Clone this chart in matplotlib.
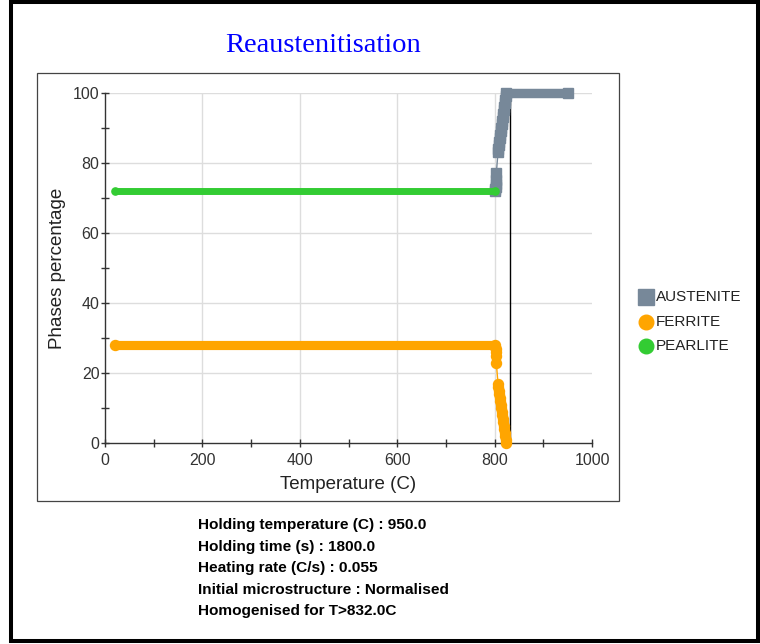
import matplotlib
matplotlib.use('Agg')
import matplotlib.pyplot as plt
from matplotlib.lines import Line2D
from matplotlib.patches import Rectangle
from matplotlib.ticker import MultipleLocator

# phase fractions (%) against temperature (C) while heating
pearlite_T = [20, 800]
pearlite = [72, 72]

ferrite_T = [20, 800, 801, 802, 802.5, 803, 803.5,
             807, 808, 809, 810, 811, 812, 813, 814, 815, 816,
             817, 818, 819, 820, 821, 822, 822.5, 823]
ferrite = [28, 28, 27.5, 27, 26, 25, 23,
           17, 16, 15, 14, 13, 12, 11, 10, 9, 8,
           7, 6, 5, 4, 3, 2, 1, 0]

austenite_T = [800, 801, 802, 802.5, 803, 803.5,
               807, 808, 809, 810, 811, 812, 813, 814, 815, 816,
               817, 818, 819, 820, 821, 822, 822.5, 823, 950]
austenite = [72, 72.5, 73, 74, 75, 77,
             83, 84, 85, 86, 87, 88, 89, 90, 91, 92,
             93, 94, 95, 96, 97, 98, 99, 100, 100]

homogenised_T = 832.0

info_lines = [
    "Holding temperature (C) : 950.0",
    "Holding time (s) : 1800.0",
    "Heating rate (C/s) : 0.055",
    "Initial microstructure : Normalised",
    "Homogenised for T>832.0C",
]

W, H = 760, 644
fig = plt.figure(figsize=(W / 100, H / 100), dpi=100)
plt.rcParams['font.family'] = ['Liberation Sans', 'DejaVu Sans']


def fx(px):
    return px / W


def fy(py):
    return 1 - py / H


# outer frame and the plot panel box
fig.add_artist(Rectangle((fx(10.5), fy(640.5)), fx(747), 639 / H, fill=False,
                         lw=2.9, ec='black', transform=fig.transFigure))
fig.add_artist(Rectangle((fx(37), fy(501)), fx(582), 428 / H, fill=False,
                         lw=0.9, ec='#444444', transform=fig.transFigure))

ax = fig.add_axes([fx(105), fy(443.3), fx(592 - 105), (443.3 - 92.7) / H])
ax.set_xlim(0, 1000)
ax.set_ylim(0, 100)
for s in ['top', 'right']:
    ax.spines[s].set_visible(False)
for s in ['left', 'bottom']:
    ax.spines[s].set_color('#333333')
    ax.spines[s].set_linewidth(1.0)

ax.xaxis.set_major_locator(MultipleLocator(200))
ax.xaxis.set_minor_locator(MultipleLocator(100))
ax.yaxis.set_major_locator(MultipleLocator(20))
ax.yaxis.set_minor_locator(MultipleLocator(10))
ax.tick_params(which='both', direction='inout', length=6, width=1,
               color='#333333', labelcolor='#333333', labelsize=11.5)
ax.tick_params(axis='x', pad=4)
ax.tick_params(axis='y', pad=1)

for v in [200, 400, 600, 800]:
    ax.axvline(v, color='#dddddd', lw=1, zorder=0)
for v in [20, 40, 60, 80, 100]:
    ax.axhline(v, color='#dddddd', lw=1, zorder=0)

ax.set_xlabel('Temperature (C)', fontsize=13.5, color='#222222', labelpad=6)
ax.set_ylabel('Phases percentage', fontsize=13.5, color='#222222', labelpad=5)

ax.vlines(homogenised_T, 0, 100, color='black', lw=1, zorder=2)

series = [
    ('AUSTENITE', austenite_T, austenite, '#778899', 's', 7.4, 6.8),
    ('FERRITE', ferrite_T, ferrite, '#ffa500', 'o', 7.2, 6.6),
    ('PEARLITE', pearlite_T, pearlite, '#33cc33', 'o', 5.2, 5.0),
]

for name, T, vals, col, mk, ms, band in series:
    ax.plot(T, vals, color=col, lw=1, marker=mk, ms=ms, mec=col, mfc=col,
            clip_on=False, zorder=3)
    # flat stretches are drawn as a continuous band
    for i in range(len(T) - 1):
        if vals[i] == vals[i + 1]:
            ax.plot([T[i], T[i + 1]], [vals[i], vals[i]], color=col, lw=band,
                    solid_capstyle='butt', clip_on=False, zorder=3)

# legend to the right of the axes
for k, (name, T, vals, col, mk, ms, band) in enumerate(series):
    yy = 297 + k * 24.5
    fig.add_artist(Line2D([fx(646)], [fy(yy)], marker=mk, ms=11 if mk == 's' else 10.5,
                          color=col, mec=col, transform=fig.transFigure))
    fig.text(fx(656), fy(yy), name, fontsize=11, color='#222222', va='center', ha='left')

fig.text(fx(323.5), fy(46), 'Reaustenitisation', fontsize=20.5, color='#0000ff',
         family=['Liberation Serif'], ha='center', va='center')

for k, line in enumerate(info_lines):
    fig.text(fx(198), fy(525 + k * 21.6), line, fontsize=11.1, fontweight='bold',
             color='black', ha='left', va='center')

fig.savefig('out.png', dpi=100)
